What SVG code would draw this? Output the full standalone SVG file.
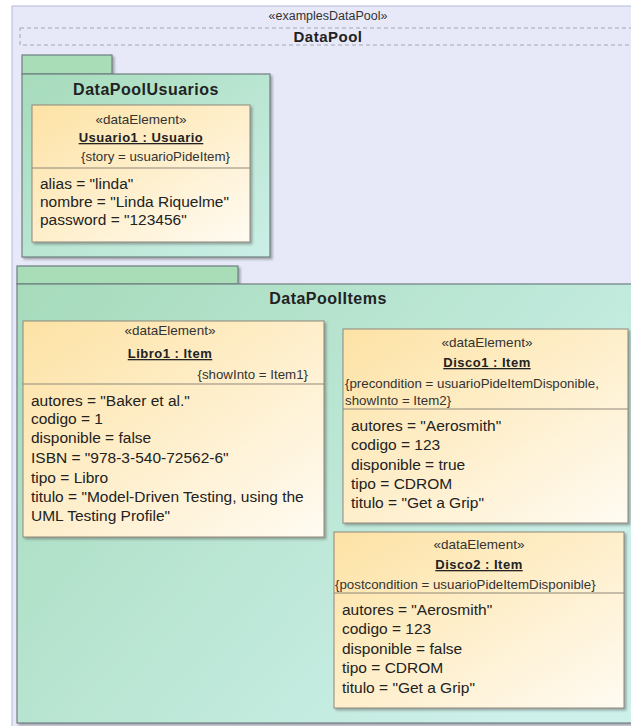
<svg xmlns="http://www.w3.org/2000/svg" width="631" height="726" viewBox="0 0 631 726">
<style>
text{font-family:"Liberation Sans",Arial,sans-serif;fill:#222}
.ttl{font-weight:bold;font-size:16px;letter-spacing:0.5px;text-anchor:middle}
.st{font-size:13.5px;text-anchor:middle;fill:#333}
.nm{font-weight:bold;font-size:13px;letter-spacing:0.5px;text-anchor:middle;text-decoration:underline}
.cn{font-size:13.3px;fill:#333}
.at{font-size:15.5px}
.pk{stroke:#6f7f80;stroke-width:1.2}
.el{fill:url(#eg);stroke:#8f887a;stroke-width:1;filter:url(#sh)}
.sep{stroke:#8f887a;stroke-width:1}
</style>
<defs>
<linearGradient id="eg" x1="0" y1="0" x2="1" y2="1">
<stop offset="0" stop-color="#fde2a4"/>
<stop offset="1" stop-color="#fffbf2"/>
</linearGradient>
<linearGradient id="pg" x1="0" y1="0" x2="1" y2="1">
<stop offset="0" stop-color="#a6dbbb"/>
<stop offset="1" stop-color="#cbefe7"/>
</linearGradient>
<linearGradient id="pg2" x1="0" y1="0" x2="1" y2="0.6">
<stop offset="0" stop-color="#a6dbbb"/>
<stop offset="1" stop-color="#cdf0eb"/>
</linearGradient>
<filter id="sh" x="-5%" y="-5%" width="115%" height="115%">
<feDropShadow dx="2" dy="2" stdDeviation="1.2" flood-color="#555" flood-opacity="0.45"/>
</filter>
</defs>
<rect width="631" height="726" fill="#ffffff"/>
<g id="DataPool">
<rect x="12" y="6" width="660" height="740" fill="#e7e9f9" stroke="#b4bad6" stroke-width="1"/>
<rect x="20" y="28" width="660" height="17" fill="none" stroke="#a3a6b4" stroke-width="1" stroke-dasharray="4,3"/>
<text x="328" y="20" class="st" style="font-size:12.5px">«examplesDataPool»</text>
<text x="328" y="42" class="ttl" style="font-size:15px">DataPool</text>
</g>
<g id="DataPoolUsuarios">
<rect x="22" y="55" width="90" height="19" fill="#a8ddb8" class="pk" filter="url(#sh)"/>
<rect x="22" y="74" width="248" height="183" fill="url(#pg)" class="pk" filter="url(#sh)"/>
<text x="146" y="95" class="ttl">DataPoolUsuarios</text>
</g>
<g id="Usuario1">
<rect x="32" y="105" width="218" height="137" class="el"/>
<text x="141" y="124" class="st">«dataElement»</text>
<text x="141" y="142" class="nm">Usuario1 : Usuario</text>
<text x="230" y="161" class="cn" text-anchor="end">{story = usuarioPideItem}</text>
<line x1="32" y1="168" x2="250" y2="168" class="sep"/>
<text x="40" y="189" class="at">alias = "linda"</text>
<text x="40" y="207" class="at">nombre = "Linda Riquelme"</text>
<text x="40" y="225" class="at">password = "123456"</text>
</g>
<g id="DataPoolItems">
<rect x="17" y="266" width="221" height="18" fill="#a8ddb8" class="pk" filter="url(#sh)"/>
<rect x="17" y="284" width="640" height="439" fill="url(#pg2)" class="pk" filter="url(#sh)"/>
<text x="328" y="304" class="ttl">DataPoolItems</text>
</g>
<g id="Libro1">
<rect x="23" y="321" width="301" height="216" class="el"/>
<text x="170" y="335" class="st">«dataElement»</text>
<text x="170" y="358" class="nm">Libro1 : Item</text>
<text x="308" y="379" class="cn" text-anchor="end">{showInto = Item1}</text>
<line x1="23" y1="384" x2="324" y2="384" class="sep"/>
<text x="31" y="406" class="at">autores = "Baker et al."</text>
<text x="31" y="424" class="at">codigo = 1</text>
<text x="31" y="443" class="at">disponible = false</text>
<text x="31" y="463" class="at">ISBN = "978-3-540-72562-6"</text>
<text x="31" y="483" class="at">tipo = Libro</text>
<text x="31" y="502" class="at">titulo = "Model-Driven Testing, using the</text>
<text x="31" y="521" class="at">UML Testing Profile"</text>
</g>
<g id="Disco1">
<rect x="343" y="329" width="285" height="194" class="el"/>
<text x="487" y="347" class="st">«dataElement»</text>
<text x="487" y="367" class="nm">Disco1 : Item</text>
<text x="345" y="388" class="cn">{precondition = usuarioPideItemDisponible,</text>
<text x="345" y="405" class="cn">showInto = Item2}</text>
<line x1="343" y1="409" x2="628" y2="409" class="sep"/>
<text x="351" y="431" class="at">autores = "Aerosmith"</text>
<text x="351" y="450" class="at">codigo = 123</text>
<text x="351" y="470" class="at">disponible = true</text>
<text x="351" y="489" class="at">tipo = CDROM</text>
<text x="351" y="508" class="at">titulo = "Get a Grip"</text>
</g>
<g id="Disco2">
<rect x="334" y="532" width="290" height="176" class="el"/>
<text x="479" y="549" class="st">«dataElement»</text>
<text x="479" y="569" class="nm">Disco2 : Item</text>
<text x="335" y="589" class="cn">{postcondition = usuarioPideItemDisponible}</text>
<line x1="334" y1="593" x2="624" y2="593" class="sep"/>
<text x="342" y="615" class="at">autores = "Aerosmith"</text>
<text x="342" y="634" class="at">codigo = 123</text>
<text x="342" y="654" class="at">disponible = false</text>
<text x="342" y="673" class="at">tipo = CDROM</text>
<text x="342" y="693" class="at">titulo = "Get a Grip"</text>
</g>
<g id="connectors"/>
</svg>
